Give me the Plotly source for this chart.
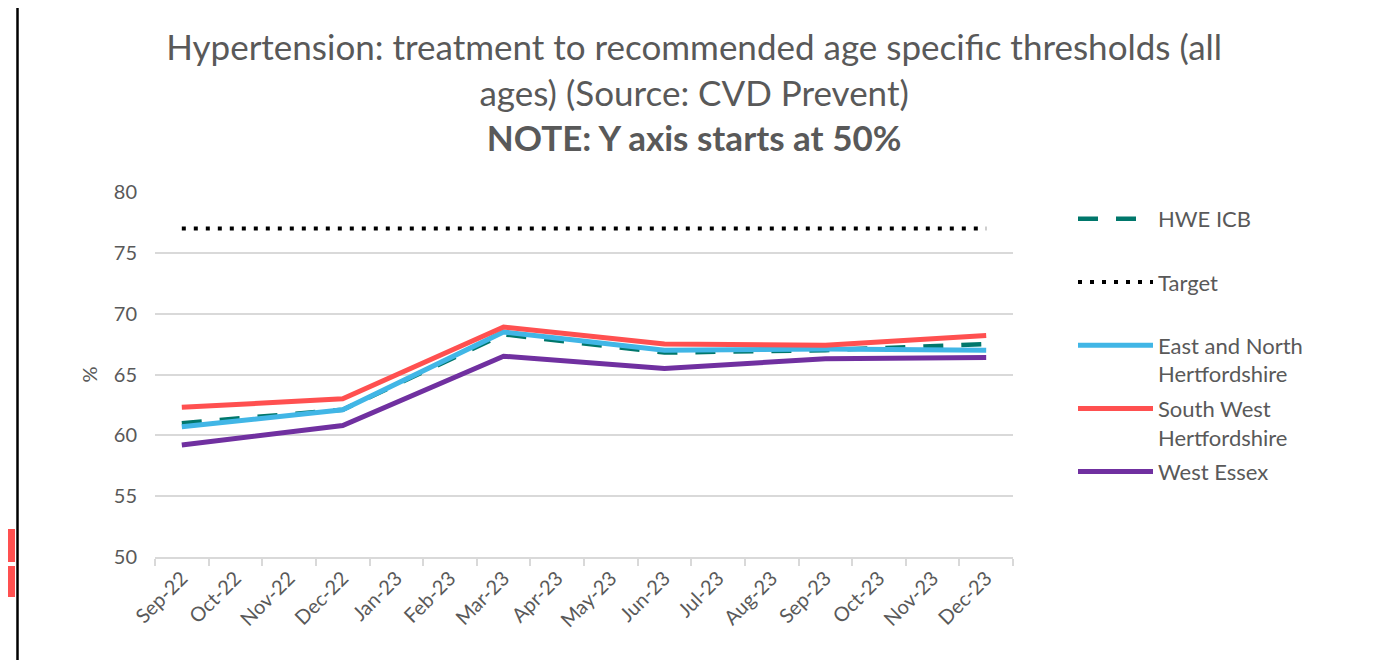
import plotly.graph_objects as go

# monthly category axis, data reported quarterly
months = ['Sep-22', 'Oct-22', 'Nov-22', 'Dec-22', 'Jan-23', 'Feb-23', 'Mar-23', 'Apr-23',
          'May-23', 'Jun-23', 'Jul-23', 'Aug-23', 'Sep-23', 'Oct-23', 'Nov-23', 'Dec-23']
quarters = ['Sep-22', 'Dec-22', 'Mar-23', 'Jun-23', 'Sep-23', 'Dec-23']

hwe_icb = [61.0, 62.1, 68.3, 66.8, 67.0, 67.5]
east_north_herts = [60.7, 62.1, 68.5, 67.0, 67.1, 67.0]
south_west_herts = [62.3, 63.0, 68.9, 67.5, 67.4, 68.2]
west_essex = [59.2, 60.8, 66.5, 65.5, 66.3, 66.4]
target = [77] * len(months)

FONT = 'Lato, Liberation Sans, sans-serif'
GREY = '#595959'

# the page body adds an 8px margin, so the figure is laid out 8px up/left
OFF = 8
W, H = 1375, 660
M_L, M_T = 155 - OFF, 192 - OFF
PLOT_W, PLOT_H = 858, 365
M_R = W - M_L - PLOT_W
M_B = H - M_T - PLOT_H


def px_x(px):
    # screen pixel -> paper x
    return (px - OFF - M_L) / PLOT_W


def px_y(py):
    # screen pixel -> paper y
    return (M_T + PLOT_H - (py - OFF)) / PLOT_H


traces = [
    go.Scatter(x=quarters, y=hwe_icb, name='HWE ICB<br> ', mode='lines',
               line=dict(color='#00776B', width=4.5, dash='20px,18px'),
               legendgroup='a'),
    go.Scatter(x=months, y=target, name='Target<br> ', mode='lines',
               line=dict(color='#000000', width=4, dash='4px,8px'),
               legendgroup='b'),
    go.Scatter(x=quarters, y=east_north_herts, name='East and North<br>Hertfordshire',
               mode='lines', line=dict(color='#41B6E6', width=5), legendgroup='c'),
    go.Scatter(x=quarters, y=south_west_herts, name='South West<br>Hertfordshire',
               mode='lines', line=dict(color='#FF5050', width=5), legendgroup='d'),
    go.Scatter(x=quarters, y=west_essex, name='West Essex',
               mode='lines', line=dict(color='#7030A0', width=5), legendgroup='e'),
]

layout = go.Layout(
    width=W, height=H,
    margin=dict(l=M_L, r=M_R, t=M_T, b=M_B),
    paper_bgcolor='white', plot_bgcolor='white',
    font=dict(family=FONT, color=GREY, size=20),
    title=dict(
        text='Hypertension: treatment to recommended age specific thresholds (all<br>'
             'ages) (Source: CVD Prevent)<br><b>NOTE: Y axis starts at 50%</b>',
        x=0.499, xanchor='center', yref='container', y=1 - 52 / H, yanchor='top',
        font=dict(family=FONT, size=35, color=GREY),
    ),
    xaxis=dict(
        type='category', categoryorder='array', categoryarray=months,
        tickson='boundaries', ticks='outside', ticklen=7, tickcolor='#d9d9d9',
        tickwidth=1.5, tickangle=-45, tickfont=dict(size=20, color=GREY),
        showgrid=False, showline=True, linecolor='#d9d9d9', linewidth=1.5,
        range=[-0.5, 15.5], zeroline=False,
    ),
    yaxis=dict(
        range=[50, 80], dtick=5, showgrid=True, gridcolor='#d9d9d9', gridwidth=1.5,
        zeroline=False, tickfont=dict(size=20, color=GREY), ticks='', ticklabelstandoff=17,
        title=dict(text='%', font=dict(size=20, color=GREY), standoff=10),
    ),
    legend=dict(
        x=px_x(1073), xanchor='left', y=px_y(198), yanchor='top',
        font=dict(size=22, color=GREY), tracegroupgap=3, valign='top',
        itemwidth=75, bgcolor='rgba(0,0,0,0)',
    ),
    shapes=[
        # edge of the original screenshot
        dict(type='line', xref='paper', yref='paper', x0=px_x(17.5), x1=px_x(17.5),
             y0=px_y(8), y1=px_y(H + 5), line=dict(color='black', width=2.5)),
        dict(type='rect', xref='paper', yref='paper', x0=px_x(0), x1=px_x(15),
             y0=px_y(562), y1=px_y(529), fillcolor='#FF5050', line_width=0),
        dict(type='rect', xref='paper', yref='paper', x0=px_x(0), x1=px_x(15),
             y0=px_y(597), y1=px_y(566), fillcolor='#FF5050', line_width=0),
    ],
)

fig = go.Figure(data=traces, layout=layout)
fig.write_html('out.html')
